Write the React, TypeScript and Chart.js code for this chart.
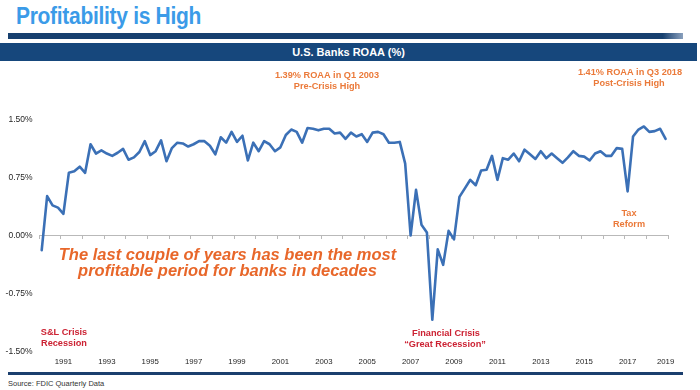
import React, { useEffect, useRef } from "react";
import { Chart, registerables } from "chart.js";

Chart.register(...registerables);

const FONT = '"Liberation Sans", Arial, Helvetica, sans-serif';

// U.S. banks quarterly ROAA (%), Q4 1990 through Q3 2019
const roaa: number[] = [
  -0.19, 0.51, 0.39, 0.36, 0.28, 0.81, 0.83, 0.89, 0.81, 1.18,
  1.06, 1.10, 1.06, 1.03, 1.07, 1.12, 0.98, 1.01, 1.08, 1.22,
  1.04, 1.09, 1.23, 0.96, 1.13, 1.20, 1.19, 1.15, 1.18, 1.22,
  1.22, 1.16, 1.05, 1.27, 1.20, 1.34, 1.21, 1.29, 0.97, 1.20,
  1.09, 1.22, 1.18, 1.09, 1.14, 1.30, 1.37, 1.34, 1.20, 1.39,
  1.38, 1.36, 1.38, 1.38, 1.32, 1.33, 1.25, 1.33, 1.28, 1.31,
  1.21, 1.33, 1.34, 1.31, 1.20, 1.20, 1.21, 0.93, 0.00, 0.59,
  0.14, 0.04, -1.09, -0.18, -0.38, 0.06, -0.05, 0.50, 0.61, 0.72,
  0.65, 0.84, 0.85, 1.03, 0.72, 1.00, 0.98, 1.06, 0.96, 1.11,
  1.05, 0.99, 1.09, 1.00, 1.06, 1.00, 0.94, 1.01, 1.09, 1.03,
  1.02, 0.97, 1.06, 1.09, 1.03, 1.03, 1.13, 1.12, 0.57, 1.28,
  1.37, 1.41, 1.34, 1.35, 1.38, 1.25,
];

const firstQuarter = 4;
const firstYear = 1990;
const quarters: string[] = roaa.map((_, i) => {
  const k = firstQuarter - 1 + i;
  return `Q${(k % 4) + 1} ${firstYear + Math.floor(k / 4)}`;
});

const xTickQuarters: string[] = [
  "Q4 1991", "Q4 1993", "Q4 1995", "Q4 1997", "Q4 1999", "Q4 2001", "Q4 2003",
  "Q4 2005", "Q4 2007", "Q4 2009", "Q4 2011", "Q4 2013", "Q4 2015", "Q4 2017", "Q3 2019",
];
const xTickLabels: string[] = [
  "1991", "1993", "1995", "1997", "1999", "2001", "2003",
  "2005", "2007", "2009", "2011", "2013", "2015", "2017", "2019",
];
const yTickValues: number[] = [-1.5, -0.75, 0, 0.75, 1.5];

const ORANGE = "#eb7a3a";
const BIG_ORANGE = "#e8672a";
const RED = "#cc2233";

const notes = [
  { text: "1.39% ROAA in Q1 2003", x: 327, y: 75, color: ORANGE, size: 9.2, italic: false },
  { text: "Pre-Crisis High", x: 327, y: 86, color: ORANGE, size: 9.2, italic: false },
  { text: "1.41% ROAA in Q3 2018", x: 630, y: 72, color: ORANGE, size: 9.2, italic: false },
  { text: "Post-Crisis High", x: 629, y: 83, color: ORANGE, size: 9.2, italic: false },
  { text: "Tax", x: 629, y: 213, color: ORANGE, size: 9.2, italic: false },
  { text: "Reform", x: 629, y: 224, color: ORANGE, size: 9.2, italic: false },
  { text: "S&L Crisis", x: 64, y: 332, color: RED, size: 9.2, italic: false },
  { text: "Recession", x: 64, y: 343, color: RED, size: 9.2, italic: false },
  { text: "Financial Crisis", x: 446, y: 333, color: RED, size: 9.2, italic: false },
  { text: "\u201cGreat Recession\u201d", x: 445, y: 344, color: RED, size: 9.2, italic: false },
  { text: "The last couple of years has been the most", x: 227.5, y: 255, color: BIG_ORANGE, size: 16.5, italic: true },
  { text: "profitable period for banks in decades", x: 227.5, y: 271, color: BIG_ORANGE, size: 16.5, italic: true },
];

const notesPlugin = {
  id: "notes",
  afterDraw(chart: any) {
    const ctx = chart.ctx as CanvasRenderingContext2D;
    ctx.save();
    ctx.textAlign = "center";
    ctx.textBaseline = "middle";
    for (const n of notes) {
      ctx.font = `${n.italic ? "italic " : ""}bold ${n.size}px ${FONT}`;
      ctx.fillStyle = n.color;
      ctx.fillText(n.text, n.x, n.y);
    }
    ctx.restore();
  },
};

export default function App() {
  const ref = useRef<HTMLCanvasElement>(null);

  useEffect(() => {
    if (!ref.current) return;
    const chart = new Chart(ref.current, {
      type: "line",
      data: {
        labels: quarters,
        datasets: [
          {
            label: "U.S. Banks ROAA (%)",
            data: roaa,
            borderColor: "#3b70b6",
            borderWidth: 2.6,
            pointRadius: 0,
            tension: 0,
            fill: false,
            borderJoinStyle: "round",
            borderCapStyle: "round",
          },
        ],
      },
      options: {
        animation: false,
        responsive: false,
        devicePixelRatio: 1,
        layout: { padding: { top: 119.5, right: 31.7, bottom: 0, left: 0 } },
        plugins: {
          legend: { display: false },
          title: { display: false },
          tooltip: { enabled: false },
        },
        scales: {
          x: {
            type: "category",
            offset: true,
            grid: { display: false, drawTicks: false },
            border: { display: false },
            afterFit: (scale: any) => {
              scale.height = 38.5;
            },
            afterBuildTicks: (scale: any) => {
              scale.ticks = xTickQuarters.map((q) => ({ value: quarters.indexOf(q) }));
            },
            ticks: {
              autoSkip: false,
              maxRotation: 0,
              minRotation: 0,
              padding: 5.5,
              color: "#262626",
              font: { family: FONT, size: 7.8 },
              callback: (value: any) => {
                const k = xTickQuarters.indexOf(quarters[Number(value)]);
                return k >= 0 ? xTickLabels[k] : "";
              },
            },
          },
          x2: {
            type: "category",
            axis: "x",
            position: { y: 0 },
            offset: true,
            ticks: { display: false },
            border: { display: true, color: "#b9b9b9", width: 1 },
            grid: {
              offset: true,
              drawOnChartArea: false,
              drawTicks: true,
              tickLength: 3,
              lineWidth: 1,
              color: (ctx: any) =>
                ctx.index === undefined || ctx.index % 4 === 0 ? "#b9b9b9" : "rgba(0,0,0,0)",
            },
          },
          y: {
            type: "linear",
            min: -1.5,
            max: 1.5,
            grid: { display: false, drawTicks: false },
            border: { display: false },
            afterFit: (scale: any) => {
              scale.width = 39;
            },
            afterBuildTicks: (scale: any) => {
              scale.ticks = yTickValues.map((v) => ({ value: v }));
            },
            ticks: {
              padding: 6.5,
              color: "#262626",
              font: { family: FONT, size: 8.5 },
              callback: (value: any) => `${Number(value).toFixed(2)}%`,
            },
          },
        },
      } as any,
      plugins: [notesPlugin],
    });
    return () => chart.destroy();
  }, []);

  return (
    <div
      style={{
        position: "absolute",
        left: 0,
        top: 0,
        width: 700,
        height: 390,
        background: "#ffffff",
        overflow: "hidden",
        fontFamily: FONT,
      }}
    >
      <div
        style={{
          position: "absolute",
          left: 16,
          top: 6,
          fontSize: 21,
          lineHeight: "21px",
          fontWeight: "bold",
          letterSpacing: "-0.3px",
          color: "#3b9be8",
          whiteSpace: "nowrap",
          transform: "scaleY(1.1)",
          transformOrigin: "left bottom",
        }}
      >
        Profitability is High
      </div>
      <div
        style={{
          position: "absolute",
          left: 8,
          top: 33,
          width: 675,
          height: 6,
          background: "linear-gradient(to right, #17406f 0%, #17406f 97%, #8aa0bd 100%)",
        }}
      />
      <div
        style={{
          position: "absolute",
          left: 0,
          top: 43,
          width: 697,
          height: 18,
          background: "#16477c",
          color: "#ffffff",
          fontSize: 11,
          fontWeight: "bold",
          lineHeight: "18px",
          textAlign: "center",
          whiteSpace: "nowrap",
        }}
      >
        U.S. Banks ROAA (%)
      </div>
      <div
        style={{
          position: "absolute",
          left: 8,
          top: 372,
          width: 675,
          height: 3,
          background: "#1b3f6e",
        }}
      />
      <div
        style={{
          position: "absolute",
          left: 8,
          top: 379,
          fontSize: 7.5,
          lineHeight: "9px",
          color: "#333333",
          whiteSpace: "nowrap",
        }}
      >
        Source: FDIC Quarterly Data
      </div>
      <canvas
        ref={ref}
        width={700}
        height={390}
        style={{ position: "absolute", left: 0, top: 0 }}
      />
    </div>
  );
}
